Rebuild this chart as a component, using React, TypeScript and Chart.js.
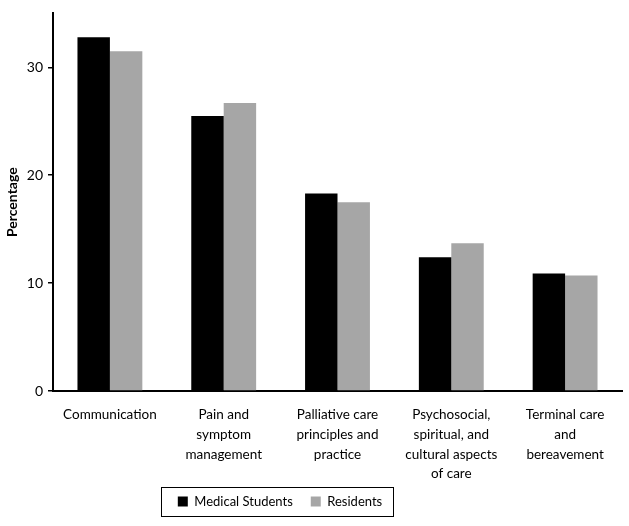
import React, { useEffect, useRef } from "react";
import { Chart, registerables } from "chart.js";

Chart.register(...registerables);

const categories: string[][] = [
  ["Communication"],
  ["Pain and", "symptom", "management"],
  ["Palliative care", "principles and", "practice"],
  ["Psychosocial,", "spiritual, and", "cultural aspects", "of care"],
  ["Terminal care", "and", "bereavement"],
];
const medicalStudents = [32.8, 25.5, 18.3, 12.4, 10.9];
const residents = [31.5, 26.7, 17.5, 13.7, 10.7];
const yTickValues = [0, 10, 20, 30];
const yMin = 0;
const yMax = 35;

const FONT = "Lato, 'Open Sans', sans-serif";
const LEGEND_CENTER = 280;

const legendBorder = {
  id: "legendBorder",
  afterLayout(chart: any) {
    const lg = chart.legend;
    if (lg) {
      const c = (lg.left + lg.right) / 2;
      const d = LEGEND_CENTER - c;
      if (d < 0) lg.right += 2 * d;
      else lg.left += 2 * d;
    }
    const xs = chart.scales.x;
    if (xs) {
      xs.bottom += 24;
      xs.height += 24;
    }
  },
  afterDraw(chart: any) {
    const lg = chart.legend;
    if (!lg || !lg.legendHitBoxes || !lg.legendHitBoxes.length) return;
    let x0 = Infinity, y0 = Infinity, x1 = -Infinity, y1 = -Infinity;
    for (const b of lg.legendHitBoxes) {
      x0 = Math.min(x0, b.left);
      y0 = Math.min(y0, b.top);
      x1 = Math.max(x1, b.left + b.width);
      y1 = Math.max(y1, b.top + b.height);
    }
    const ctx = chart.ctx;
    ctx.save();
    ctx.strokeStyle = "#000";
    ctx.lineWidth = 1;
    ctx.strokeRect(Math.round(x0 - 17) + 0.5, Math.round(y0 - 8) + 0.5, Math.round(x1 - x0 + 28), Math.round(y1 - y0 + 16));
    ctx.restore();
  },
};

export default function App() {
  const ref = useRef<HTMLCanvasElement>(null);
  useEffect(() => {
    if (!ref.current) return;
    const chart = new Chart(ref.current, {
      type: "bar",
      data: {
        labels: categories,
        datasets: [
          {
            label: "Medical Students",
            data: medicalStudents,
            backgroundColor: "#000000",
            borderWidth: 0,
            barPercentage: 1,
            categoryPercentage: 0.57,
          },
          {
            label: "Residents",
            data: residents,
            backgroundColor: "#a6a6a6",
            borderWidth: 0,
            barPercentage: 1,
            categoryPercentage: 0.57,
          },
        ],
      },
      options: {
        animation: false,
        responsive: true,
        maintainAspectRatio: false,
        layout: { padding: { left: 0, right: 7, top: 5, bottom: 8 } },
        plugins: {
          tooltip: { enabled: false },
          legend: {
            position: "bottom",
            labels: {
              boxWidth: 10,
              boxHeight: 10,
              padding: 18,
              color: "#000",
              font: { family: FONT, size: 13 },
            },
          },
        },
        scales: {
          x: {
            grid: { display: false, drawTicks: false },
            border: { display: true, color: "#000", width: 2 },
            ticks: {
              color: "#000",
              padding: 14,
              maxRotation: 0,
              autoSkip: false,
              font: { family: FONT, size: 13.5, lineHeight: 1.46 },
            },
            afterFit: (s: any) => {
              s.height = 86;
            },
          },
          y: {
            min: yMin,
            max: yMax,
            afterBuildTicks: (s: any) => {
              s.ticks = yTickValues.map((v) => ({ value: v }));
            },
            grid: { display: true, drawOnChartArea: false, drawTicks: true, tickLength: 5, color: "#000", lineWidth: 1.5 },
            border: { display: true, color: "#000", width: 2 },
            ticks: {
              color: "#000",
              padding: 5,
              font: { family: FONT, size: 14 },
            },
            title: {
              display: true,
              text: "Percentage",
              color: "#000",
              padding: { top: 4, bottom: 0 },
              font: { family: FONT, size: 14, weight: "bold" },
            },
            afterFit: (s: any) => {
              s.width = 53;
            },
          },
        },
      },
      plugins: [legendBorder],
    } as any);
    return () => chart.destroy();
  }, []);
  return (
    <div style={{ position: "fixed", left: 0, top: 0, width: 629, height: 526, background: "#fff" }}>
      <canvas ref={ref} />
    </div>
  );
}
